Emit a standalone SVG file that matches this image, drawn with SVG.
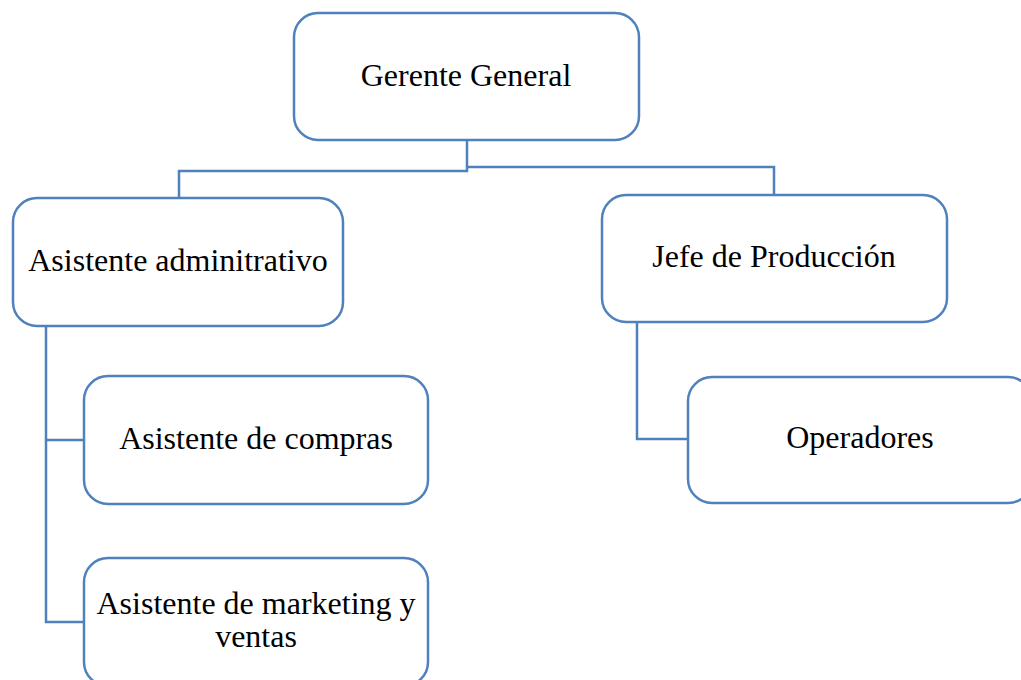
<svg xmlns="http://www.w3.org/2000/svg" width="1021" height="680" viewBox="0 0 1021 680">
<style>
.box{fill:#fff;stroke:#4f81bd;stroke-width:2.5}
.ln{fill:none;stroke:#4f81bd;stroke-width:2.5}
.t{font-family:"Liberation Serif","Times New Roman",serif;font-size:32px;fill:#000;text-anchor:middle}
</style>
<rect width="1021" height="680" fill="#fff"/>
<g id="connectors">
<path class="ln" d="M467 140 V171 H179 V198"/>
<path class="ln" d="M467 167 H774 V195"/>
<path class="ln" d="M46 326 V622 H84"/>
<path class="ln" d="M46 440 H84"/>
<path class="ln" d="M637 322 V439 H688"/>
</g>
<g id="gerente">
<rect class="box" x="294" y="13" width="345" height="127" rx="24"/>
<text class="t" x="466" y="86">Gerente General</text>
</g>
<g id="asistente-admin">
<rect class="box" x="13" y="198" width="330" height="128" rx="24"/>
<text class="t" x="178" y="271">Asistente adminitrativo</text>
</g>
<g id="jefe">
<rect class="box" x="602" y="195" width="345" height="127" rx="24"/>
<text class="t" x="774" y="267">Jefe de Producción</text>
</g>
<g id="compras">
<rect class="box" x="84" y="376" width="344" height="128" rx="24"/>
<text class="t" x="256" y="449">Asistente de compras</text>
</g>
<g id="marketing">
<rect class="box" x="84" y="558" width="344" height="128" rx="24"/>
<text class="t" x="256" y="614">Asistente de marketing y</text>
<text class="t" x="256" y="647">ventas</text>
</g>
<g id="operadores">
<rect class="box" x="688" y="377" width="344" height="126" rx="24"/>
<text class="t" x="860" y="448">Operadores</text>
</g>
</svg>
